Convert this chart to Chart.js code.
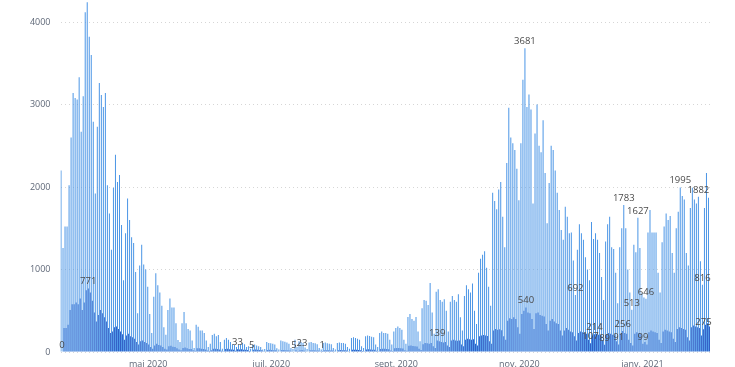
<!DOCTYPE html>
<html lang="fr">
<head>
<meta charset="utf-8">
<script src="https://cdn.jsdelivr.net/npm/chart.js@4.4.1/dist/chart.umd.min.js"></script>
<style>
	html, body { margin: 0; padding: 0; background: #fff; }
	#wrap { position: relative; width: 735px; height: 367px; }
</style>
</head>
<body>
<div id="wrap"><canvas id="chart"></canvas></div>
<script>
// premier jour de la série, puis une valeur par jour
const startDay = '2020-03-19'

// nouvelles hospitalisations (du jeudi 19/03 au dimanche 22/03, puis semaine par semaine, lundi -> dimanche)
const hospitalisations = [
	2200, 1260, 1520, 1520,
	2020, 2600, 3140, 3080, 3060, 3330, 2670,
	3100, 4120, 4240, 3820, 3600, 2790, 1920,
	2730, 3260, 3115, 2970, 3140, 2020, 1680,
	1240, 1990, 2390, 2060, 2145, 1540, 870,
	1440, 1860, 1600, 1390, 1320, 970, 470,
	1050, 1300, 1060, 1000, 790, 460, 230,
	670, 955, 810, 720, 560, 300, 210,
	510, 650, 540, 540, 350, 145, 120,
	350, 485, 350, 280, 260, 140, 50,
	330, 305, 260, 260, 230, 140, 60,
	100, 205, 220, 190, 205, 120, 40,
	150, 170, 150, 120, 90, 85, 60,
	85, 90, 110, 95, 60, 70, 40,
	85, 90, 80, 70, 60, 30, 35,
	120, 110, 105, 100, 90, 45, 30,
	140, 130, 125, 115, 100, 50, 35,
	150, 60, 130, 120, 110, 55, 35,
	115, 120, 110, 105, 95, 50, 30,
	110, 115, 105, 100, 95, 50, 30,
	110, 115, 110, 110, 100, 60, 40,
	170, 180, 170, 160, 150, 70, 50,
	190, 200, 195, 185, 180, 90, 60,
	230, 250, 230, 230, 220, 150, 90,
	250, 290, 310, 290, 270, 150, 100,
	425, 460, 400, 380, 425, 250, 130,
	530, 630, 620, 570, 835, 480, 220,
	730, 760, 630, 610, 640, 500, 250,
	610, 680, 630, 610, 700, 420, 260,
	680, 810, 760, 720, 830, 500, 340,
	960, 1130, 1180, 1220, 1020, 790, 560,
	1930, 1830, 1730, 1970, 2060, 1640, 1270,
	2290, 2960, 2600, 2530, 2450, 2220, 1840,
	2530, 3300, 3681, 2970, 3120, 2940, 1800,
	2650, 3000, 2500, 2420, 2810, 2170, 1560,
	2050, 2500, 2450, 2200, 1930, 1720, 1480,
	1360, 1760, 1640, 1440, 1450, 1110, 692,
	1240, 1550, 1440, 1360, 1150, 1000, 870,
	1575, 1370, 1440, 1360, 1200, 910, 630,
	1340, 1550, 1640, 1270, 1250, 960, 590,
	1270, 1500, 1783, 1500, 1000, 720, 513,
	1300, 1210, 1627, 1260, 710, 660, 646,
	1450, 1720, 1450, 1450, 1450, 960, 720,
	1330, 1520, 1680, 1600, 1650, 1200, 960,
	1500, 1700, 1995, 1890, 1850, 1200, 1050,
	1745, 1990, 1850, 1800, 1882, 1100, 816,
	1745, 2170, 1870
]

// nouvelles admissions en réanimation, même découpage
const reanimations = [
	0, 290, 290, 330,
	510, 580, 580, 600, 580, 650, 510,
	600, 750, 771, 720, 620, 480, 370,
	450, 510, 470, 420, 370, 290, 230,
	250, 300, 310, 280, 250, 215, 150,
	200, 220, 190, 180, 160, 120, 90,
	130, 140, 120, 110, 90, 60, 40,
	80, 100, 85, 80, 60, 40, 30,
	70, 75, 65, 60, 45, 30, 20,
	50, 55, 45, 35, 35, 20, 15,
	45, 45, 40, 35, 30, 18, 12,
	20, 40, 38, 35, 30, 15, 10,
	35, 38, 33, 30, 28, 15, 33,
	30, 32, 28, 27, 25, 12, 5,
	28, 30, 26, 25, 22, 10, 8,
	25, 26, 24, 22, 20, 10, 7,
	24, 25, 22, 20, 18, 9, 5,
	22, 12, 20, 23, 18, 8, 6,
	20, 22, 20, 18, 17, 8, 1,
	20, 22, 21, 19, 18, 9, 6,
	22, 24, 22, 20, 19, 10, 7,
	26, 28, 26, 24, 22, 12, 8,
	30, 32, 30, 28, 26, 14, 10,
	36, 40, 38, 35, 33, 18, 12,
	45, 50, 48, 45, 42, 22, 15,
	75, 80, 72, 70, 68, 40, 25,
	95, 110, 105, 100, 110, 70, 50,
	139, 130, 120, 115, 120, 80, 60,
	140, 150, 140, 135, 140, 90, 70,
	150, 160, 155, 150, 155, 100, 80,
	190, 200, 205, 200, 195, 130, 100,
	260, 280, 270, 275, 265, 190, 150,
	380, 410, 400, 420, 400, 300, 220,
	460, 500, 540, 480, 470, 400, 280,
	470, 480, 450, 440, 430, 340, 260,
	380, 400, 370, 350, 340, 260, 200,
	260, 290, 270, 250, 240, 190, 140,
	230, 250, 240, 230, 220, 150, 107,
	200, 214, 220, 210, 200, 140, 89,
	210, 230, 220, 210, 200, 130, 91,
	220, 256, 230, 220, 150, 110, 80,
	220, 240, 230, 220, 99, 120, 90,
	240, 260, 250, 240, 230, 150, 110,
	250, 270, 260, 250, 240, 160, 120,
	280, 300, 290, 280, 270, 180, 140,
	300, 320, 310, 300, 290, 200, 275,
	330, 350, 310
]

// jours dont la valeur est affichée au-dessus de la barre
const hospLabelDays = [230, 255, 279, 283, 286, 290, 307, 316, 318]
const reaLabelDays = [0, 13, 87, 94, 115, 119, 129, 186, 230, 262, 264, 269, 276, 278, 288, 318]

// graduations
const monthTickDays = ['2020-05-01', '2020-07-01', '2020-09-01', '2020-11-01', '2021-01-01']
const monthTickLabels = ['mai 2020', 'juil. 2020', 'sept. 2020', 'nov. 2020', 'janv. 2021']
const yTicks = [0, 1000, 2000, 3000, 4000]

function buildDays(first, count) {
	const days = []
	const d = new Date(first + 'T12:00:00Z')
	for (let i = 0; i < count; i++) {
		days.push(d.toISOString().slice(0, 10))
		d.setUTCDate(d.getUTCDate() + 1)
	}
	return days
}

const days = buildDays(startDay, hospitalisations.length)

const valueLabels = {
	id: 'valueLabels',
	afterDatasetsDraw(chart) {
		const ctx = chart.ctx
		ctx.save()
		ctx.font = '9.5px "Open Sans", sans-serif'
		ctx.fillStyle = '#4a4a4a'
		ctx.textAlign = 'center'
		ctx.textBaseline = 'bottom'
		const sets = [hospLabelDays, reaLabelDays]
		sets.forEach((idxs, dsIndex) => {
			const meta = chart.getDatasetMeta(dsIndex)
			const values = chart.data.datasets[dsIndex].data
			idxs.forEach(i => {
				const bar = meta.data[i]
				if (!bar) return
				ctx.fillText(String(values[i]), bar.x, bar.y - 2)
			})
		})
		ctx.restore()
	}
}

new Chart(document.getElementById('chart'), {
	type: 'bar',
	data: {
		labels: days,
		datasets: [
			{
				label: 'Hospitalisations',
				data: hospitalisations,
				backgroundColor: 'rgb(76,150,230)',
				categoryPercentage: 1,
				barPercentage: 1,
				inflateAmount: 0,
			},
			{
				label: 'Réanimations',
				data: reanimations,
				backgroundColor: 'rgb(48,94,198)',
				categoryPercentage: 1,
				barPercentage: 1,
				inflateAmount: 0,
			},
		],
	},
	options: {
		responsive: true,
		maintainAspectRatio: false,
		animation: false,
		events: [],
		layout: { padding: { top: 0, right: 25, bottom: 0, left: 0 } },
		plugins: {
			legend: { display: false },
			tooltip: { enabled: false },
		},
		scales: {
			x: {
				grid: { display: false, drawTicks: false },
				border: { display: false },
				afterFit(scale) {
					scale.height = 15
					scale.paddingLeft = 0
					scale.paddingRight = 0
				},
				ticks: {
					autoSkip: false,
					maxRotation: 0,
					padding: 7,
					color: '#5f6878',
					font: { family: '"Open Sans", sans-serif', size: 9 },
					callback(value) {
						const k = monthTickDays.indexOf(this.getLabelForValue(value))
						return k === -1 ? '' : monthTickLabels[k]
					},
				},
			},
			y: {
				min: 0,
				max: 4267,
				afterFit(scale) {
					scale.width = 60.5
					scale.paddingTop = 0
					scale.paddingBottom = 0
				},
				afterBuildTicks(scale) {
					scale.ticks = yTicks.map(v => ({ value: v }))
				},
				grid: {
					color: '#d6d6d6',
					drawTicks: false,
				},
				border: { display: false, dash: [1, 3] },
				ticks: {
					padding: 10,
					color: '#5f6878',
					font: { family: '"Open Sans", sans-serif', size: 9 },
					callback: v => String(v),
				},
			},
		},
	},
	plugins: [valueLabels],
})
</script>
</body>
</html>
